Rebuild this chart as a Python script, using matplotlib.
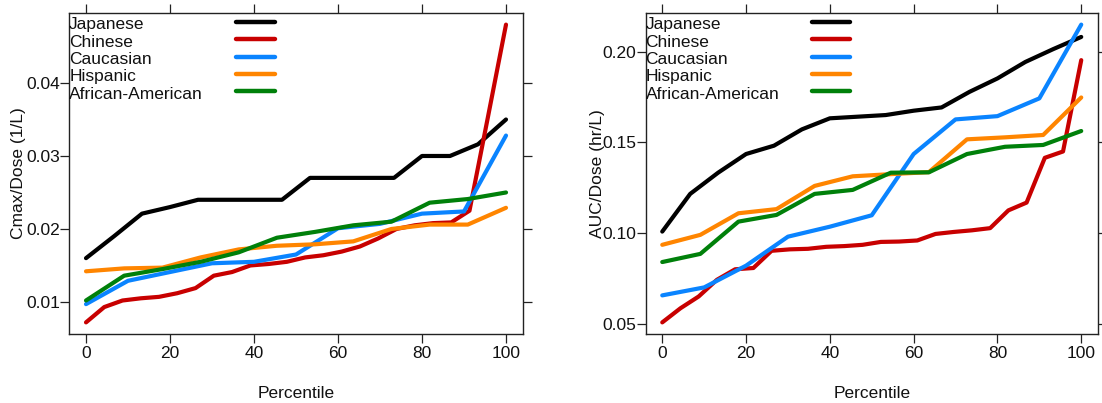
import matplotlib
matplotlib.use("Agg")
import matplotlib.pyplot as plt
import numpy as np

plt.rcParams['font.family'] = ['Liberation Sans', 'DejaVu Sans']

groups = ["Japanese", "Chinese", "Caucasian", "Hispanic", "African-American"]
colors = ["#000000", "#C80000", "#0A84FF", "#FF8500", "#00800A"]

# percentile grids (sample sizes differ by group)
pct_jp = np.linspace(0, 100, 16)
pct_cn = np.linspace(0, 100, 24)
pct_cau = np.linspace(0, 100, 11)
pct_his = np.linspace(0, 100, 12)
pct_aa = np.linspace(0, 100, 12)

# Cmax/Dose (1/L)
cmax_jp = [0.0160, 0.0190, 0.0221, 0.0230, 0.0240, 0.0240, 0.0240, 0.0240,
           0.0270, 0.0270, 0.0270, 0.0270, 0.0300, 0.0300, 0.0316, 0.0350]
cmax_cn = [0.0072, 0.0093, 0.0102, 0.0105, 0.0107, 0.0112, 0.0119, 0.0136,
           0.0141, 0.0150, 0.0152, 0.0155, 0.0161, 0.0164, 0.0169, 0.0176,
           0.0187, 0.0200, 0.0205, 0.0208, 0.0209, 0.0225, 0.0352, 0.0480]
cmax_cau = [0.0097, 0.0129, 0.0141, 0.0153, 0.0155, 0.0165, 0.0201, 0.0207,
            0.0221, 0.0224, 0.0328]
cmax_his = [0.0142, 0.0146, 0.0147, 0.0161, 0.0172, 0.0177, 0.0179, 0.0183,
            0.0200, 0.0206, 0.0206, 0.0229]
cmax_aa = [0.0102, 0.0136, 0.0145, 0.0155, 0.0168, 0.0188, 0.0196, 0.0205,
           0.0210, 0.0236, 0.0241, 0.0250]

# AUC/Dose (hr/L)
auc_jp = [0.1008, 0.1216, 0.1333, 0.1436, 0.1482, 0.1572, 0.1633, 0.1642,
          0.1651, 0.1675, 0.1693, 0.1779, 0.1853, 0.1944, 0.2015, 0.2082]
auc_cn = [0.0507, 0.0585, 0.0650, 0.0742, 0.0800, 0.0807, 0.0902, 0.0910,
          0.0913, 0.0924, 0.0928, 0.0935, 0.0951, 0.0953, 0.0959, 0.0995,
          0.1006, 0.1015, 0.1027, 0.1125, 0.1168, 0.1415, 0.1450, 0.1954]
auc_cau = [0.0656, 0.0700, 0.0820, 0.0980, 0.1035, 0.1098, 0.1436, 0.1627,
           0.1645, 0.1743, 0.2150]
auc_his = [0.0935, 0.0990, 0.1109, 0.1132, 0.1260, 0.1313, 0.1325, 0.1336,
           0.1517, 0.1528, 0.1541, 0.1748]
auc_aa = [0.0840, 0.0885, 0.1063, 0.1100, 0.1216, 0.1238, 0.1333, 0.1335,
          0.1436, 0.1476, 0.1486, 0.1563]

pcts = [pct_jp, pct_cn, pct_cau, pct_his, pct_aa]
cmax = [cmax_jp, cmax_cn, cmax_cau, cmax_his, cmax_aa]
auc = [auc_jp, auc_cn, auc_cau, auc_his, auc_aa]

xticks = [0, 20, 40, 60, 80, 100]
cmax_yticks = [0.01, 0.02, 0.03, 0.04]
cmax_ylabels = ["0.01", "0.02", "0.03", "0.04"]
auc_yticks = [0.05, 0.10, 0.15, 0.20]
auc_ylabels = ["0.05", "0.10", "0.15", "0.20"]

W, H = 1102, 403
fig = plt.figure(figsize=(W / 100, H / 100), dpi=100)

panels = [
    (69.2, 522.8, cmax, cmax_yticks, cmax_ylabels, "Cmax/Dose (1/L)", 18.7),
    (645.5, 1098.0, auc, auc_yticks, auc_ylabels, "AUC/Dose (hr/L)", 598.0),
]
top_px, bot_px = 12.7, 334.3
FS = 12.5

for (x0, x1, data, yt, ytl, ylab, ylab_x) in panels:
    ax = fig.add_axes([x0 / W, (H - bot_px) / H, (x1 - x0) / W, (bot_px - top_px) / H])
    for p, v, c in zip(pcts, data, colors):
        ax.plot(p, v, color=c, lw=3.0, solid_joinstyle='round', solid_capstyle='round')
    ax.margins(x=0.04, y=0.04)
    ax.set_xticks(xticks)
    ax.set_xticklabels([str(t) for t in xticks])
    ax.set_yticks(yt)
    ax.set_yticklabels(ytl)
    ax.tick_params(axis='both', which='both', direction='out', length=6.4, width=0.9,
                   labelsize=FS, color='#222222', labelcolor='#111111',
                   top=True, right=True, left=True, bottom=True,
                   labeltop=False, labelright=False)
    ax.tick_params(axis='y', pad=0.3)
    ax.tick_params(axis='x', pad=2.0)
    for s in ax.spines.values():
        s.set_linewidth(1.0)
        s.set_color('#222222')
    # y label (overlapping tick labels like the original)
    fig.text(ylab_x / W, 1 - ((top_px + bot_px) / 2) / H, ylab, rotation=90,
             ha='center', va='center', fontsize=FS, color='#111111')
    # x label
    fig.text(((x0 + x1) / 2) / W, (H - 397.7) / H, "Percentile",
             ha='center', va='baseline', fontsize=FS, color='#111111')
    # key inside panel
    axh = bot_px - top_px
    for i, (g, c) in enumerate(zip(groups, colors)):
        ly = 1 - (21.7 + 17.4 * i - top_px) / axh
        ty = 1 - (29.3 + 17.4 * i - top_px) / axh
        ax.text(0.0, ty, g, transform=ax.transAxes, ha='left', va='baseline',
                fontsize=FS, color='#111111')
        ax.plot([0.368, 0.453], [ly, ly], transform=ax.transAxes, color=c,
                lw=3.2, solid_capstyle='round', clip_on=False)

fig.savefig("out.png", dpi=100)
